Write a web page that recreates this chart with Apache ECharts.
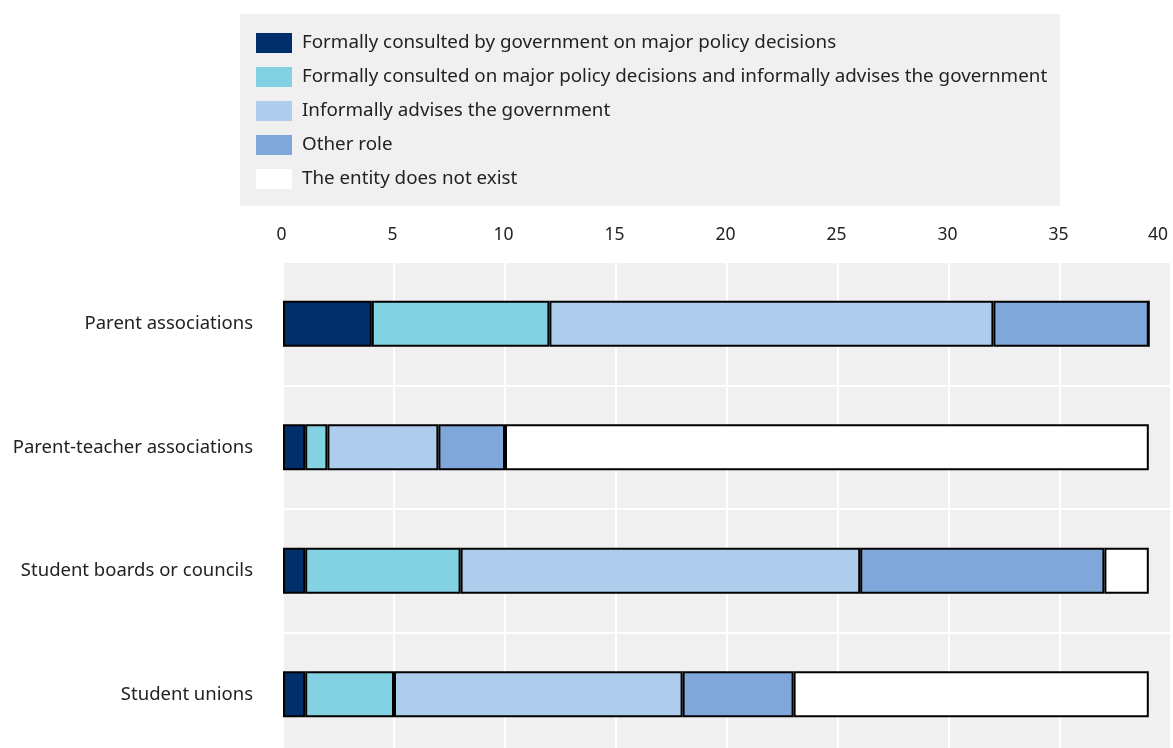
<!DOCTYPE html>
<html>
<head>
<meta charset="utf-8">
<script src="https://cdn.jsdelivr.net/npm/echarts@6/dist/echarts.min.js"></script>
<style>
	html, body { margin: 0; padding: 0; background: #fff; }
	#chart { width: 1173px; height: 748px; }
</style>
</head>
<body>
<div id="chart"></div>
<script>
// 카테고리 (위에서 아래로)
var categories = ['Parent associations', 'Parent-teacher associations', 'Student boards or councils', 'Student unions'];

// 시리즈 이름
var seriesNames = [
	'Formally consulted by government on major policy decisions',
	'Formally consulted on major policy decisions and informally advises the government',
	'Informally advises the government',
	'Other role',
	'The entity does not exist'
];

// 값
var formalValues = [4, 1, 1, 1];
var formalInformalValues = [8, 1, 7, 4];
var informalValues = [20, 5, 18, 13];
var otherValues = [7, 3, 11, 5];
var noneValues = [0, 29, 2, 16];

// x축 눈금
var xTicks = [0, 5, 10, 15, 20, 25, 30, 35, 40];

var colors = ['#002f6c', '#83d2e3', '#aecdec', '#7fa7d9', '#ffffff'];

showRoleChart();

function makeSeries(name, data, color) {
	return {
		name: name,
		type: 'bar',
		stack: 'total',
		barWidth: 46,
		data: data,
		itemStyle: {
			color: color,
			borderColor: '#000',
			borderWidth: 2
		}
	};
}

function showRoleChart() {
	var chart = echarts.init(document.getElementById('chart'));
	var font = 'Noto Sans';
	var option = {
		animation: false,
		textStyle: { fontFamily: font },
		graphic: [{
			type: 'rect',
			left: 240,
			top: 14,
			shape: { width: 820, height: 192 },
			style: { fill: '#f0f0f0' },
			z: -1
		}],
		legend: {
			orient: 'vertical',
			left: 256,
			top: 33,
			padding: 0,
			itemGap: 14,
			itemWidth: 36,
			itemHeight: 20,
			icon: 'rect',
			data: seriesNames,
			itemStyle: { borderWidth: 0 },
			textStyle: { fontSize: 18.8, color: '#222', fontFamily: font, padding: [0, 0, 0, 5] }
		},
		grid: {
			left: 283,
			right: 2,
			top: 262,
			bottom: -8,
			outerBoundsMode: 'none',
			containLabel: false,
			show: true,
			backgroundColor: '#f0f0f0',
			borderWidth: 0
		},
		xAxis: {
			type: 'value',
			position: 'top',
			min: xTicks[0],
			max: xTicks[xTicks.length - 1],
			interval: 5,
			axisLine: { show: false },
			axisTick: { show: false },
			axisLabel: {
				fontSize: 17.5,
				color: '#222',
				margin: 18,
				alignMaxLabel: 'right',
				padding: [0, 3, 0, 0]
			},
			splitLine: { lineStyle: { color: '#fff', width: 2 } }
		},
		yAxis: {
			type: 'category',
			inverse: true,
			data: categories,
			axisLine: { show: false },
			axisTick: { show: false },
			axisLabel: { fontSize: 18.5, color: '#222', margin: 30 },
			splitLine: { show: true, lineStyle: { color: '#fff', width: 2 } }
		},
		series: [
			makeSeries(seriesNames[0], formalValues, colors[0]),
			makeSeries(seriesNames[1], formalInformalValues, colors[1]),
			makeSeries(seriesNames[2], informalValues, colors[2]),
			makeSeries(seriesNames[3], otherValues, colors[3]),
			makeSeries(seriesNames[4], noneValues, colors[4])
		]
	};
	chart.setOption(option);
}
</script>
</body>
</html>
